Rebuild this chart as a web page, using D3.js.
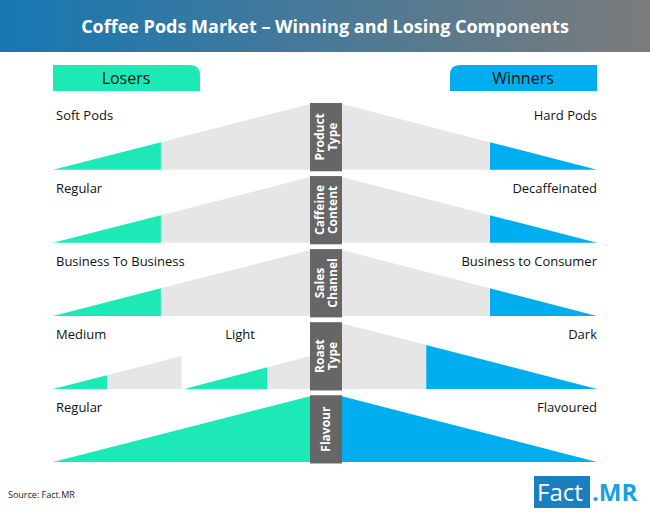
<!DOCTYPE html>
<html><head><meta charset="utf-8">
<script src="https://cdn.jsdelivr.net/npm/d3@7"></script>
<style>body{margin:0;background:#fff}text{font-family:"Open Sans",sans-serif}</style>
</head><body><div class="container"></div>
<script>
const categories = [['Product', 'Type'], ['Caffeine', 'Content'], ['Sales', 'Channel'], ['Roast', 'Type'], ['Flavour']];
const loserLabels = ['Soft Pods', 'Regular', 'Business To Business', 'Medium', 'Regular'];
const winnerLabels = ['Hard Pods', 'Decaffeinated', 'Business to Consumer', 'Dark', 'Flavoured'];
const loserShare = [0.42, 0.42, 0.42, 0.42, 1];
const winnerShare = [0.42, 0.42, 0.42, 0.67, 1];
// roast row is split in two half-size wedges on the losing side
const splitLabel = 'Light';
const splitShare = 0.66;

const w = 650, h = 512;
const svg = d3.select('.container').append('svg').attr('width', w).attr('height', h);

const grad = svg.append('defs').append('linearGradient').attr('id', 'hd');
grad.append('stop').attr('offset', '0%').attr('stop-color', '#1677b3');
grad.append('stop').attr('offset', '100%').attr('stop-color', '#7b7b7b');
svg.append('rect').attr('width', w).attr('height', 52).attr('fill', 'url(#hd)');
svg.append('text').text('Coffee Pods Market \u2013 Winning and Losing Components')
    .attr('x', 325).attr('y', 33).attr('text-anchor', 'middle')
    .attr('fill', '#fff').style('font-size', '18px').style('font-weight', 'bold');

const teal = '#1de9b6', blue = '#00aef0', grey = '#e6e6e6', bar = '#666';

// header tabs
svg.append('path').attr('d', 'M53,65 H190 Q200,65 200,75 V91 H53 Z').attr('fill', teal);
svg.append('path').attr('d', 'M597,65 H460 Q450,65 450,75 V91 H597 Z').attr('fill', blue);
svg.append('text').text('Losers').attr('x', 126).attr('y', 84).attr('text-anchor', 'middle').style('font-size', '16px').attr('fill', '#111');
svg.append('text').text('Winners').attr('x', 523).attr('y', 84).attr('text-anchor', 'middle').style('font-size', '16px').attr('fill', '#111');

const y = d3.scaleBand().domain(d3.range(categories.length)).range([104, 462]).paddingInner(0.1);
const xl = d3.scaleLinear().domain([0, 1]).range([53, 310]);
const xr = d3.scaleLinear().domain([0, 1]).range([597, 342]);

const wedge = (sc, x0, x1, y0, bh, top, g) => {
    // wedge rising from x0 (height 0) to x1 (height top), filled from g0 to g1 in domain units
    const hAt = v => bh * top * (v - x0) / (x1 - x0);
    const yb = y0 + bh;
    return [[g[0], yb], [g[1], yb], [g[1], yb - hAt(g[1])], [g[0], yb - hAt(g[0])]]
        .map(p => [sc(p[0]), p[1]]);
};
const line = d3.line();

categories.forEach((c, i) => {
    const y0 = y(i), bh = y.bandwidth();
    const g = svg.append('g');
    if (i === 3) {
        [[0, 0.5, loserShare[i]], [0.51, 1, splitShare]].forEach(([a, b, s]) => {
            const m = a + (b - a) * s;
            g.append('path').attr('d', line(wedge(xl, a, b, y0, bh, 0.5, [a, m]))).attr('fill', teal);
            g.append('path').attr('d', line(wedge(xl, a, b, y0, bh, 0.5, [m, b]))).attr('fill', grey);
        });
        g.append('text').text(splitLabel).attr('x', xl(0.67)).attr('y', y0 + 16).style('font-size', '13px').attr('fill', '#111');
    } else {
        g.append('path').attr('d', line(wedge(xl, 0, 1, y0, bh, 1, [0, loserShare[i]]))).attr('fill', teal);
        g.append('path').attr('d', line(wedge(xl, 0, 1, y0, bh, 1, [loserShare[i], 1]))).attr('fill', grey);
    }
    g.append('path').attr('d', line(wedge(xr, 0, 1, y0, bh, 1, [0, winnerShare[i]]))).attr('fill', blue);
    g.append('path').attr('d', line(wedge(xr, 0, 1, y0, bh, 1, [winnerShare[i], 1]))).attr('fill', grey);

    g.append('rect').attr('x', 310).attr('y', y0 - 1).attr('width', 32).attr('height', bh + 2.5).attr('fill', bar);
    const t = g.append('text').attr('transform', `translate(326,${y0 + bh / 2}) rotate(-90)`)
        .attr('text-anchor', 'middle').attr('fill', '#fff').style('font-size', '12px').style('font-weight', 'bold');
    c.forEach((s, k) => t.append('tspan').attr('x', 0).attr('dy', k === 0 ? (c.length > 1 ? -2 : 4) : 13).text(s));

    g.append('text').text(loserLabels[i]).attr('x', 56).attr('y', y0 + 16).style('font-size', '13px').attr('fill', '#111');
    g.append('text').text(winnerLabels[i]).attr('x', 597).attr('y', y0 + 16).attr('text-anchor', 'end').style('font-size', '13px').attr('fill', '#111');
});

svg.append('text').text('Source: Fact.MR').attr('x', 8).attr('y', 498).style('font-size', '9px').attr('fill', '#222');
svg.append('rect').attr('x', 534).attr('y', 476).attr('width', 56).attr('height', 32).attr('fill', '#1a7fbf');
svg.append('text').text('Fact').attr('x', 537).attr('y', 501).attr('fill', '#fff').style('font-size', '24px');
svg.append('text').text('.MR').attr('x', 592).attr('y', 501).attr('fill', '#1a9fe0').style('font-size', '24px').style('font-weight', 'bold');
</script></body></html>
